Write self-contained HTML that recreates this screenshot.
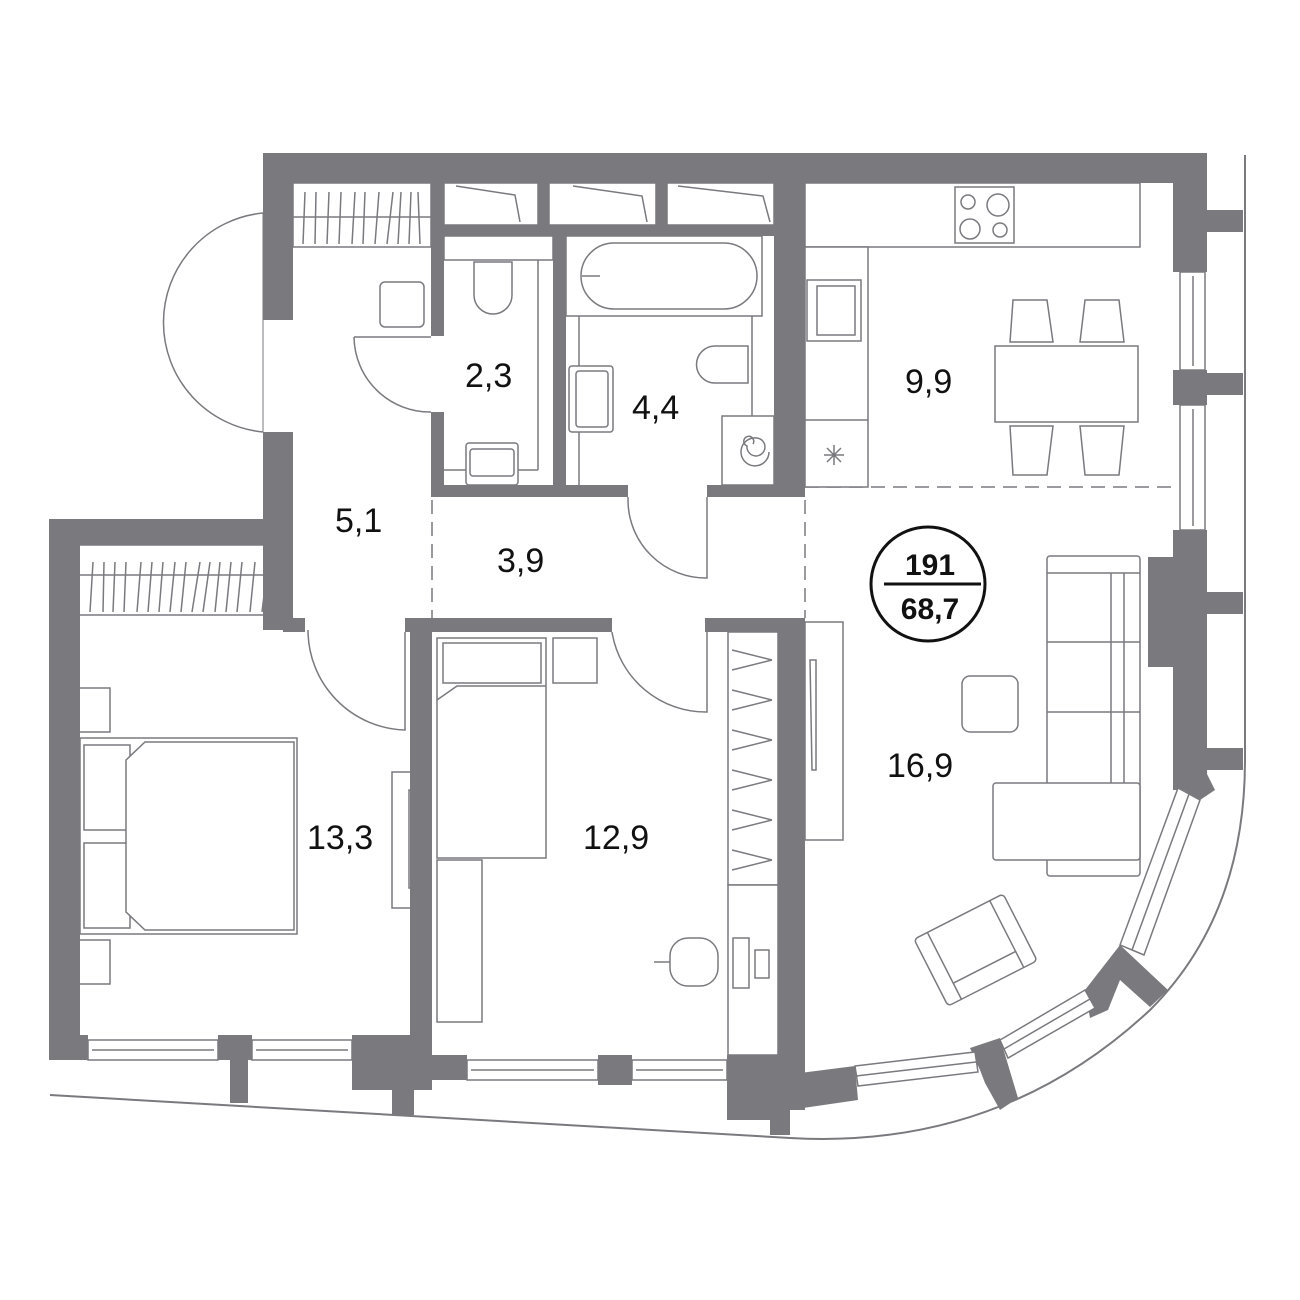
<!DOCTYPE html>
<html><head><meta charset="utf-8"><style>
html,body{margin:0;padding:0;background:#fff}
svg{display:block}
text{font-family:"Liberation Sans",sans-serif;fill:#111}
</style></head><body>
<svg width="1300" height="1300" viewBox="0 0 1300 1300" xmlns="http://www.w3.org/2000/svg">
<g fill="#fff" stroke="#7a797e" stroke-width="1.5">
<!-- site outline -->
<path d="M50 1095 L790 1138 Q1000 1150 1150 1010 Q1245 915 1245 760 L1245 155" fill="none" stroke-width="2"/>
<!-- balcony door arc -->
<path d="M263 213 A110 110 0 0 0 263 432" fill="none"/>
<path d="M263 213 L263 432" fill="none" stroke-width="1"/>
<!-- closets top -->
<rect x="293" y="183" width="138" height="64"/>
<line x1="293" y1="217" x2="431" y2="217"/>
<rect x="444" y="183" width="94" height="42"/>
<rect x="549" y="183" width="107" height="42"/>
<rect x="667" y="183" width="107" height="42"/>
<path d="M456 186 L515 195 L520 222 M573 186 L642 196 L647 222 M678 186 L763 196 L770 222" fill="none"/>
<!-- closet hatch -->
<path d="M303 244 L305 192 M315 244 L316 192 M327 244 L329 192 M339 244 L341 192 M352 244 L355 192 M363 244 L365 192 M375 244 L379 192 M387 244 L393 192 M398 244 L401 192 M409 244 L411 192 M420 244 L418 192" fill="none"/>
<!-- WC room 2.3 -->
<rect x="444" y="236" width="109" height="24"/>
<line x1="538" y1="260" x2="538" y2="470"/>
<line x1="444" y1="470" x2="538" y2="470"/>
<path d="M474 262 L512 262 L512 295 A19 19 0 0 1 474 295 Z"/>
<rect x="466" y="443" width="52" height="42" rx="3"/>
<rect x="470" y="449" width="44" height="27" rx="3"/>
<rect x="380" y="282" width="44" height="45" rx="5"/>
<path d="M354 337 L431 337" fill="none"/>
<path d="M354 337 A76 76 0 0 0 431 412" fill="none"/>
<!-- bath 4.4 -->
<rect x="566" y="236" width="196" height="80"/>
<rect x="581" y="243" width="176" height="66" rx="33"/>
<line x1="582" y1="276" x2="600" y2="276"/>
<line x1="579" y1="316" x2="579" y2="485"/>
<line x1="752" y1="316" x2="752" y2="485"/>
<rect x="569" y="366" width="44" height="66" rx="3"/>
<rect x="576" y="371" width="32" height="56" rx="3"/>
<path d="M748 346 L715 346 A18 18 0 0 0 715 383 L748 383 Z"/>
<rect x="722" y="416" width="52" height="69"/>
<path d="M753 444 a5 5 0 1 0 -6 2 a9 9 0 1 0 10 -8 a14 14 0 1 0 12 14" fill="none"/>
<!-- corridor doors -->
<path d="M628 497 L628 500 A78 78 0 0 0 707 578 L707 497" fill="none"/>
<line x1="432" y1="500" x2="432" y2="618" stroke-dasharray="14 8"/>
<line x1="805" y1="500" x2="805" y2="618" stroke-dasharray="14 8"/>
<line x1="805" y1="487" x2="1175" y2="487" stroke-dasharray="14 8"/>
<!-- kitchen -->
<rect x="805" y="183" width="335" height="64"/>
<rect x="955" y="187" width="59" height="56"/>
<circle cx="968" cy="202" r="7"/><circle cx="998" cy="205" r="11"/>
<circle cx="970" cy="229" r="10"/><circle cx="1000" cy="230" r="7"/>
<rect x="805" y="247" width="63" height="240"/>
<line x1="805" y1="420" x2="868" y2="420"/>
<rect x="807" y="280" width="54" height="61"/>
<rect x="817" y="286" width="38" height="49"/>
<path d="M834 445 v20 M824 455 h20 M827 448 l14 14 M841 448 l-14 14" fill="none"/>
<rect x="995" y="346" width="143" height="76"/>
<path d="M1010 342 L1013 300 L1047 300 L1053 342 Z M1080 342 L1085 300 L1119 300 L1124 342 Z M1010 426 L1013 475 L1047 475 L1053 426 Z M1080 426 L1085 475 L1119 475 L1124 426 Z"/>
<!-- living -->
<rect x="1047" y="556" width="93" height="320" rx="3"/>
<line x1="1047" y1="573" x2="1140" y2="573"/>
<line x1="1111" y1="573" x2="1111" y2="860"/><line x1="1124" y1="573" x2="1124" y2="860"/>
<line x1="1047" y1="642" x2="1140" y2="642"/><line x1="1047" y1="712" x2="1140" y2="712"/>
<rect x="993" y="783" width="147" height="77" rx="3"/>
<rect x="962" y="676" width="56" height="56" rx="8"/>
<rect x="805" y="622" width="38" height="218"/>
<path d="M810 660 L812 770 L816 770 L816 660 Z"/>
<g transform="rotate(-27 970 950)"><rect x="925" y="915" width="100" height="75" rx="4"/><line x1="940" y1="915" x2="940" y2="990"/><line x1="1010" y1="915" x2="1010" y2="990"/><line x1="940" y1="972" x2="1010" y2="972"/></g>
<!-- bedroom -->
<rect x="78" y="545" width="206" height="70"/>
<line x1="78" y1="575" x2="284" y2="575"/>
<path d="M90 612 L93 562 M103 612 L104 562 M113 612 L115 562 M124 612 L126 562 M137 612 L141 562 M148 612 L152 562 M159 612 L163 562 M170 612 L175 562 M181 612 L186 562 M192 612 L200 562 M203 612 L210 562 M215 612 L220 562 M226 612 L231 562 M237 612 L242 562 M250 612 L255 562 M262 612 L268 562 M272 612 L278 562" fill="none"/>
<rect x="78" y="688" width="32" height="44"/>
<rect x="78" y="940" width="32" height="44"/>
<rect x="80" y="738" width="217" height="196"/>
<rect x="84" y="745" width="46" height="85"/>
<rect x="84" y="843" width="46" height="85"/>
<path d="M126 760 L145 742 L294 742 L294 930 L145 930 L126 912 Z"/>
<path d="M308 630 A100 100 0 0 0 405 730 L405 632" fill="none"/>
<rect x="392" y="772" width="26" height="136"/>
<path d="M409 790 L413 790 L416 830 L413 888 L409 888 Z"/>
<!-- room 12.9 -->
<rect x="437" y="638" width="109" height="220"/>
<rect x="443" y="643" width="98" height="40"/>
<path d="M437 700 L457 686 L546 686"/>
<rect x="553" y="638" width="44" height="45"/>
<rect x="437" y="860" width="45" height="162"/>
<path d="M612 632 A95 95 0 0 0 707 712 L707 632" fill="none"/>
<rect x="728" y="632" width="50" height="253"/>
<path d="M732 650 l40 10 M732 670 l40 -10 M732 690 l40 10 M732 710 l40 -10 M732 730 l40 10 M732 750 l40 -10 M732 770 l40 10 M732 790 l40 -10 M732 810 l40 10 M732 830 l40 -10 M732 850 l40 10 M732 870 l40 -10" fill="none"/>
<rect x="728" y="885" width="50" height="170"/>
<rect x="733" y="938" width="16" height="50"/>
<rect x="755" y="950" width="14" height="28"/>
<rect x="670" y="938" width="48" height="48" rx="18"/>
<line x1="654" y1="962" x2="670" y2="962"/>
<!-- windows -->
<rect x="88" y="1040" width="130" height="20"/><line x1="92" y1="1050" x2="214" y2="1050"/>
<rect x="252" y="1040" width="100" height="20"/><line x1="256" y1="1050" x2="348" y2="1050"/>
<rect x="467" y="1060" width="131" height="20"/><line x1="471" y1="1070" x2="594" y2="1070"/>
<rect x="632" y="1060" width="95" height="20"/><line x1="636" y1="1070" x2="723" y2="1070"/>
<rect x="1180" y="272" width="25" height="98"/><line x1="1193" y1="276" x2="1193" y2="366"/>
<rect x="1180" y="405" width="25" height="125"/><line x1="1193" y1="409" x2="1193" y2="526"/>
</g>
<!-- walls -->
<g fill="#7a797e">
<rect x="263" y="153" width="917" height="30"/>
<rect x="263" y="153" width="30" height="167"/>
<rect x="263" y="432" width="30" height="198"/>
<rect x="49" y="519" width="244" height="26"/>
<rect x="49" y="519" width="31" height="541"/>
<rect x="49" y="1035" width="39" height="25"/>
<rect x="218" y="1035" width="34" height="25"/>
<rect x="230" y="1060" width="18" height="43"/>
<rect x="352" y="1035" width="80" height="55"/>
<rect x="392" y="1035" width="22" height="80"/>
<rect x="283" y="618" width="22" height="14"/>
<rect x="410" y="618" width="22" height="437"/>
<rect x="405" y="618" width="207" height="14"/>
<rect x="705" y="618" width="100" height="14"/>
<rect x="410" y="1055" width="57" height="25"/>
<rect x="598" y="1055" width="34" height="30"/>
<rect x="727" y="1055" width="63" height="65"/>
<rect x="770" y="1060" width="20" height="75"/>
<rect x="778" y="618" width="27" height="492"/>
<rect x="431" y="183" width="13" height="153"/>
<rect x="431" y="412" width="13" height="85"/>
<rect x="431" y="225" width="343" height="11"/>
<rect x="538" y="183" width="11" height="42"/>
<rect x="656" y="183" width="11" height="42"/>
<rect x="553" y="236" width="13" height="261"/>
<rect x="431" y="485" width="197" height="12"/>
<rect x="707" y="485" width="98" height="12"/>
<rect x="774" y="153" width="31" height="344"/>
<rect x="1173" y="153" width="34" height="119"/>
<rect x="1173" y="370" width="34" height="35"/>
<rect x="1173" y="530" width="34" height="260"/>
<rect x="1148" y="557" width="37" height="110"/>
<rect x="1205" y="210" width="38" height="22"/>
<rect x="1205" y="373" width="38" height="22"/>
<rect x="1205" y="592" width="38" height="22"/>
<rect x="1205" y="748" width="38" height="22"/>
<polygon points="800,1073 855,1066 858,1100 803,1108"/>
<polygon points="970,1048 1000,1038 1018,1098 1000,1110 985,1083 980,1070"/>
<polygon points="1085,990 1120,945 1168,990 1150,1007 1120,980 1108,1010 1090,1018"/>
<polygon points="1175,785 1205,770 1215,790 1200,800"/>
</g>
<g fill="#fff" stroke="#7a797e" stroke-width="1.5">
<polygon points="855,1066 975,1052 978,1072 858,1086"/>
<line x1="856" y1="1076" x2="976" y2="1062"/>
<polygon points="1000,1040 1085,990 1095,1008 1008,1058"/>
<line x1="1004" y1="1049" x2="1090" y2="999"/>
<polygon points="1120,945 1178,788 1200,800 1144,955"/>
<line x1="1132" y1="950" x2="1189" y2="794"/>
</g>
<!-- labels -->
<g font-size="34">
<text x="465" y="387">2,3</text>
<text x="632" y="419">4,4</text>
<text x="905" y="393">9,9</text>
<text x="335" y="532">5,1</text>
<text x="497" y="572">3,9</text>
<text x="307" y="849">13,3</text>
<text x="583" y="849">12,9</text>
<text x="887" y="777">16,9</text>
</g>
<circle cx="928" cy="584" r="57" fill="none" stroke="#111" stroke-width="3"/>
<line x1="884" y1="584" x2="981" y2="584" stroke="#111" stroke-width="3"/>
<text x="930" y="575" font-size="30" font-weight="bold" text-anchor="middle">191</text>
<text x="930" y="619" font-size="30" font-weight="bold" text-anchor="middle">68,7</text>
</svg>
</body></html>
